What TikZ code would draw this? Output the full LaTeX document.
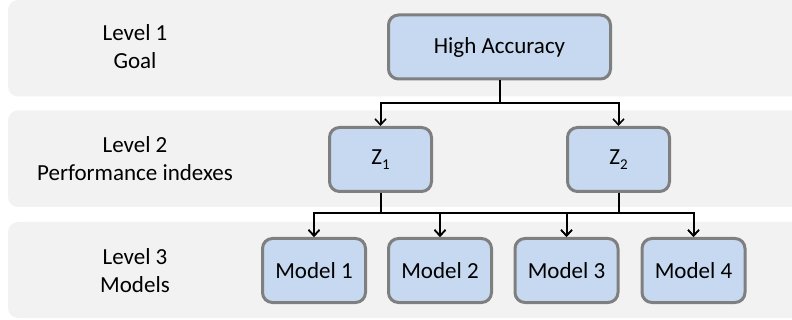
\documentclass[tikz,border=0pt]{standalone}
\usepackage{fontspec}
\setmainfont{Carlito}
\usetikzlibrary{arrows.meta}
\definecolor{bandgray}{HTML}{F2F2F2}
\definecolor{boxblue}{HTML}{C6D9F0}
\definecolor{boxedge}{HTML}{7F7F7F}
\newcommand{\lowsub}[1]{\raisebox{-5pt}{\fontsize{15}{15}\selectfont #1}}
\begin{document}
\begin{tikzpicture}[x=1pt,y=-1pt,
  band/.style={fill=bandgray,rounded corners=10pt},
  lvl/.style={align=center,font=\fontsize{23}{28}\selectfont,inner sep=0pt},
  hbox/.style={draw=boxedge,line width=3pt,fill=boxblue,rounded corners=10pt,
    font=\fontsize{23}{28}\selectfont,inner sep=0pt,minimum height=64pt},
  conn/.style={line width=2pt,-{Straight Barb[length=6pt,width=11pt,line width=1.6pt]}}
]
\useasboundingbox (0,0) rectangle (792,320);
% bands
\path[band] (8,0) rectangle (805,96.5);
\path[band] (8,110.5) rectangle (805,207);
\path[band] (8,222) rectangle (805,318);
% level labels
\node[lvl] (l1) at (135,47) {Level 1\\Goal};
\node[lvl] (l2) at (135,159) {Level 2\\Performance indexes};
\node[lvl] (l3) at (135,271) {Level 3\\Models};
% boxes
\node[hbox,minimum width=222pt] (ha) at (499.5,47) {High Accuracy};
\node[hbox,minimum width=102pt] (z1) at (380.5,159.5) {Z\lowsub{1}};
\node[hbox,minimum width=102pt] (z2) at (618.5,159.5) {Z\lowsub{2}};
\node[hbox,minimum width=103pt] (m1) at (314,270.5) {Model 1};
\node[hbox,minimum width=103pt] (m2) at (440,270.5) {Model 2};
\node[hbox,minimum width=103pt] (m3) at (566.5,270.5) {Model 3};
\node[hbox,minimum width=103pt] (m4) at (693.5,270.5) {Model 4};
% connectors
\draw[conn] (ha.south) -- ++(0,23) -| (z1.north);
\draw[conn] (ha.south) -- ++(0,23) -| (z2.north);
\foreach \z in {z1,z2}{
  \foreach \m in {m1,m2,m3,m4}{
    \draw[conn] (\z.south) -- ++(0,20.5) -| (\m.north);
  }
}
\end{tikzpicture}
\end{document}
